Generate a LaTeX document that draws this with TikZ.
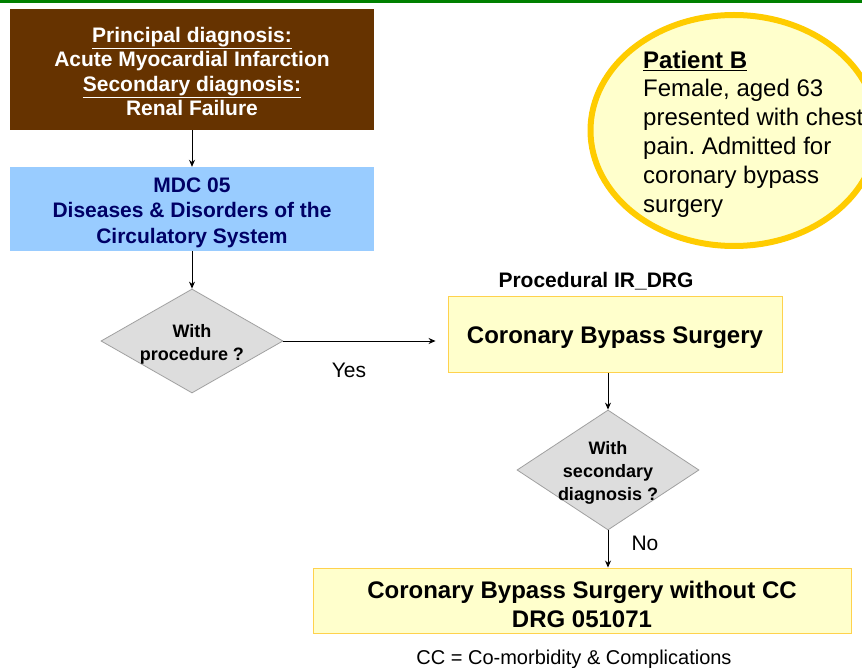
\documentclass[tikz,border=0pt]{standalone}
\usepackage{fontspec}
\setmainfont{Liberation Sans}
\frenchspacing
\usetikzlibrary{shapes.geometric,arrows.meta}
\definecolor{brownbox}{HTML}{663300}
\definecolor{bluebox}{HTML}{99CCFF}
\definecolor{navytext}{HTML}{000066}
\definecolor{greyfill}{HTML}{DDDDDD}
\definecolor{greyline}{HTML}{A0A0A0}
\definecolor{paleyellow}{HTML}{FFFFCC}
\definecolor{goldline}{HTML}{FFCC00}
\definecolor{boxline}{HTML}{FFD24D}
\definecolor{topgreen}{HTML}{008000}
\tikzset{
  arr/.style={-{Stealth[length=7pt,width=6pt]}, line width=0.9pt, black},
  brownnode/.style={draw=none, fill=brownbox, minimum width=364pt, minimum height=121pt, inner sep=0pt},
  browntext/.style={inner sep=0pt, align=center, text=white, font=\bfseries\fontsize{21}{24.5}\selectfont},
  bluenode/.style={draw=none, fill=bluebox, minimum width=364pt, minimum height=84pt, inner sep=0pt},
  bluetext/.style={inner sep=0pt, align=center, text=navytext, font=\bfseries\fontsize{21}{25.5}\selectfont},
  decision/.style={diamond, draw=greyline, line width=0.8pt, fill=greyfill, inner sep=0pt, minimum width=182pt},
  dtext/.style={align=center, inner sep=0pt, font=\bfseries\fontsize{18}{23}\selectfont},
  ybox/.style={draw=boxline, line width=0.9pt, fill=paleyellow, inner sep=0pt},
  ytext/.style={inner sep=0pt, align=center, font=\bfseries\fontsize{24}{29}\selectfont},
  plain/.style={inner sep=0pt, font=\fontsize{21}{25}\selectfont}
}
\begin{document}
\begin{tikzpicture}[x=1pt,y=-1pt]
\useasboundingbox (0,0) rectangle (862,668);
\fill[white] (0,0) rectangle (862,668);
\draw[topgreen, line width=2.6pt] (0,1.3) -- (862,1.3);

% Patient B bubble
\node[ellipse, draw=goldline, line width=6pt, fill=paleyellow, minimum width=287pt, minimum height=231pt, inner sep=0pt] (pb) at (734,130.5) {};
\node[anchor=north west, inner sep=0pt, align=left, font=\fontsize{24}{28.8}\selectfont] (pbt) at (643,50.5)
  {\textbf{\underline{Patient B}}\\Female, aged 63\\presented with chest\\pain. Admitted for\\coronary bypass\\surgery};

% Left column
\node[brownnode] (diag) at (192,69.5) {};
\node[browntext] (diagt) at (192,71.5) {\underline{Principal diagnosis:}\\Acute Myocardial Infarction\\\underline{Secondary diagnosis:}\\Renal Failure};
\node[bluenode] (mdc) at (192,209) {};
\node[bluetext] (mdct) at (192,212.5) {MDC 05\\Diseases \& Disorders of the\\Circulatory System};
\node[decision, minimum height=104pt] (d1) at (192,341) {};
\node[dtext] (d1t) at (192,344.5) {With\\procedure ?};

% Procedure box
\node[font=\bfseries\fontsize{21}{25}\selectfont, inner sep=0pt] (proc) at (596,281.5) {Procedural IR\_DRG};
\node[ybox, minimum width=334pt, minimum height=76pt] (cbs) at (615,334.5) {};
\node[ytext] (cbst) at (615,338) {Coronary Bypass Surgery};

\node[decision, minimum height=120pt] (d2) at (608,470) {};
\node[dtext] (d2t) at (608,473) {With\\secondary\\diagnosis ?};

\node[ybox, minimum width=538pt, minimum height=65pt] (fin) at (582,600.5) {};
\node[ytext] (fint) at (582,604) {Coronary Bypass Surgery without CC\\DRG 051071};

\node[plain] (yes) at (349,370) {Yes};
\node[plain] (no) at (645,543) {No};
\node[inner sep=0pt, font=\fontsize{20}{24}\selectfont] (note) at (574,659) {CC = Co-morbidity \& Complications};

% Connectors
\draw[arr] (diag.south) -- (mdc.north);
\draw[arr] (mdc.south) -- (d1.north);
\draw[arr, shorten >=12pt] (d1.east) -- (cbs.west |- d1.east);
\draw[arr] (d2.north |- cbs.south) -- (d2.north);
\draw[arr] (d2.south) -- (d2.south |- fin.north);
\end{tikzpicture}
\end{document}
